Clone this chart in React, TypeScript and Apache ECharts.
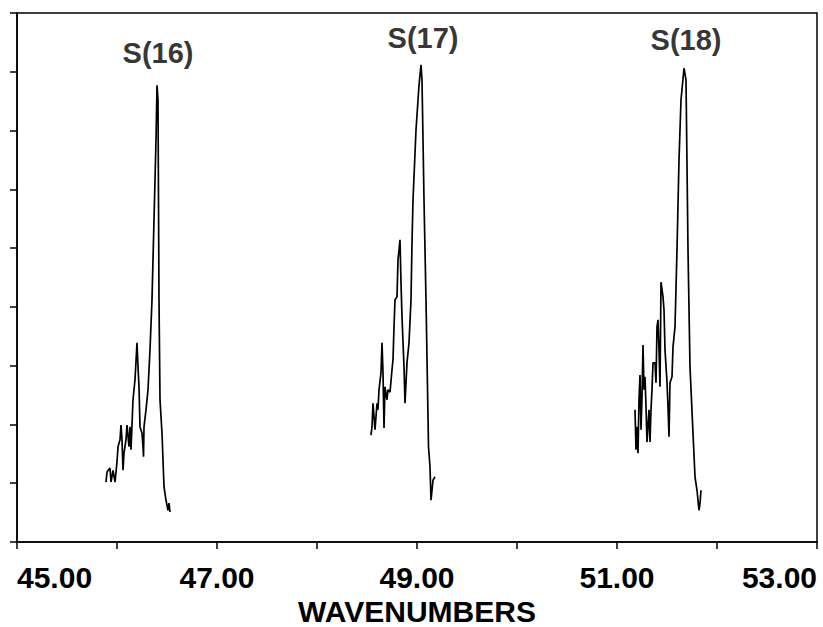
import React, { useEffect, useRef } from "react";
import * as echarts from "echarts";

// S(16) band trace
const s16Wavenumber = [45.89, 45.90, 45.93, 45.94, 45.96, 45.98, 46.00, 46.01, 46.03, 46.04, 46.05, 46.06, 46.07, 46.09, 46.10, 46.12, 46.13, 46.14, 46.16, 46.18, 46.20, 46.21, 46.22, 46.23, 46.25, 46.26, 46.265, 46.27, 46.29, 46.31, 46.33, 46.35, 46.37, 46.39, 46.40, 46.41, 46.42, 46.43, 46.45, 46.47, 46.49, 46.51, 46.52, 46.53];
const s16Intensity = [1.02, 1.19, 1.26, 1.02, 1.22, 1.02, 1.36, 1.62, 1.74, 1.99, 1.74, 1.22, 1.51, 1.74, 1.99, 1.62, 1.96, 1.57, 2.42, 2.76, 3.39, 2.98, 2.64, 1.96, 1.85, 1.62, 1.45, 1.96, 2.25, 2.59, 3.27, 4.12, 5.48, 6.84, 7.77, 7.52, 4.12, 2.42, 1.85, 0.94, 0.71, 0.54, 0.66, 0.51];

// S(17) band trace
const s17Wavenumber = [48.54, 48.55, 48.56, 48.58, 48.60, 48.61, 48.62, 48.64, 48.65, 48.66, 48.67, 48.68, 48.70, 48.71, 48.73, 48.75, 48.76, 48.77, 48.78, 48.80, 48.81, 48.83, 48.84, 48.85, 48.87, 48.88, 48.90, 48.92, 48.94, 48.95, 48.96, 48.99, 49.02, 49.04, 49.05, 49.07, 49.09, 49.11, 49.115, 49.13, 49.14, 49.16, 49.18];
const s17Intensity = [1.82, 1.96, 2.36, 1.91, 2.36, 2.25, 2.59, 2.88, 3.39, 2.88, 1.94, 2.64, 2.42, 2.59, 2.55, 2.93, 3.10, 3.66, 4.12, 4.17, 4.80, 5.14, 4.41, 3.83, 2.98, 2.36, 3.05, 3.39, 4.12, 5.09, 5.82, 7.01, 7.77, 8.12, 7.86, 5.82, 4.12, 2.13, 1.62, 1.28, 0.71, 1.05, 1.11];

// S(18) band trace
const s18Wavenumber = [51.18, 51.19, 51.20, 51.21, 51.22, 51.23, 51.24, 51.25, 51.26, 51.27, 51.28, 51.29, 51.30, 51.32, 51.33, 51.34, 51.35, 51.36, 51.38, 51.39, 51.40, 51.41, 51.42, 51.43, 51.44, 51.46, 51.47, 51.48, 51.50, 51.51, 51.52, 51.53, 51.55, 51.56, 51.58, 51.60, 51.62, 51.64, 51.67, 51.69, 51.71, 51.73, 51.76, 51.78, 51.80, 51.82, 51.83, 51.84];
const s18Intensity = [2.25, 1.57, 1.96, 1.51, 2.42, 2.84, 1.91, 2.47, 3.35, 2.59, 2.81, 2.30, 1.70, 2.25, 1.70, 2.25, 2.59, 3.05, 3.05, 2.71, 3.66, 3.78, 3.27, 2.64, 4.42, 4.17, 3.95, 3.27, 2.72, 2.30, 1.79, 2.71, 2.81, 3.32, 3.66, 4.97, 6.50, 7.52, 8.06, 7.86, 4.97, 2.98, 1.85, 1.11, 0.88, 0.54, 0.66, 0.88];

// Band labels
const bandLabels = ["S(16)", "S(17)", "S(18)"];
const bandLabelX = [46.41, 49.06, 51.69];
const bandLabelY = [8.32, 8.57, 8.54];

const xMin = 45;
const xMax = 53;
const yMin = 0;
const yMax = 9;

const zip = (xs: number[], ys: number[]) => xs.map((x, i) => [x, ys[i]]);

const FONT = "'Liberation Sans', Arial, Helvetica, sans-serif";

export default function App() {
  const ref = useRef<HTMLDivElement>(null);
  useEffect(() => {
    if (!ref.current) return;
    const chart = echarts.init(ref.current, undefined, { renderer: "svg" });
    const lineStyle = { color: "#000", width: 1.7 };
    const mkLine = (name: string, xs: number[], ys: number[]) => ({
      name,
      type: "line",
      data: zip(xs, ys),
      showSymbol: false,
      symbol: "none",
      lineStyle,
      smooth: false,
    });
    chart.setOption({
      animation: false,
      backgroundColor: "#fff",
      grid: {
        left: 17,
        right: 6,
        top: 13,
        bottom: 85,
        containLabel: false,
        outerBoundsMode: "none",
        show: true,
        borderColor: "#000",
        borderWidth: 1.5,
        backgroundColor: "transparent",
      },
      xAxis: {
        type: "value",
        min: xMin,
        max: xMax,
        interval: 1,
        name: "WAVENUMBERS",
        nameLocation: "middle",
        nameGap: 53,
        nameTextStyle: { color: "#000", fontSize: 30, fontWeight: "bold", fontFamily: FONT },
        axisLine: { show: true, lineStyle: { color: "#000", width: 1.5 } },
        axisTick: { show: true, inside: false, length: 7, lineStyle: { color: "#000", width: 1.5 } },
        axisLabel: {
          color: "#000",
          fontSize: 30,
          fontWeight: "bold",
          fontFamily: FONT,
          margin: 20,
          showMinLabel: true,
          showMaxLabel: true,
          hideOverlap: false,
          alignMinLabel: "left",
          alignMaxLabel: "right",
          formatter: (v: number) => (Math.round(v) % 2 === 1 ? v.toFixed(2) : ""),
        },
        splitLine: { show: false },
      },
      yAxis: {
        type: "value",
        min: yMin,
        max: yMax,
        interval: 1,
        axisLine: { show: true, lineStyle: { color: "#000", width: 1.5 } },
        axisTick: { show: true, inside: false, length: 7, lineStyle: { color: "#000", width: 1.5 } },
        axisLabel: { show: false },
        splitLine: { show: false },
      },
      series: [
        mkLine("S(16)", s16Wavenumber, s16Intensity),
        mkLine("S(17)", s17Wavenumber, s17Intensity),
        mkLine("S(18)", s18Wavenumber, s18Intensity),
        {
          name: "labels",
          type: "scatter",
          symbolSize: 0,
          data: bandLabels.map((n, i) => ({ name: n, value: [bandLabelX[i], bandLabelY[i]] })),
          label: {
            show: true,
            position: "inside",
            formatter: (p: any) => p.name,
            color: "#000",
            fontSize: 29,
            fontWeight: "bold",
            fontFamily: FONT,
          },
          silent: true,
        },
      ],
    });
    return () => chart.dispose();
  }, []);
  return <div ref={ref} style={{ width: 823, height: 627, position: "absolute", left: 0, top: 0 }} />;
}
